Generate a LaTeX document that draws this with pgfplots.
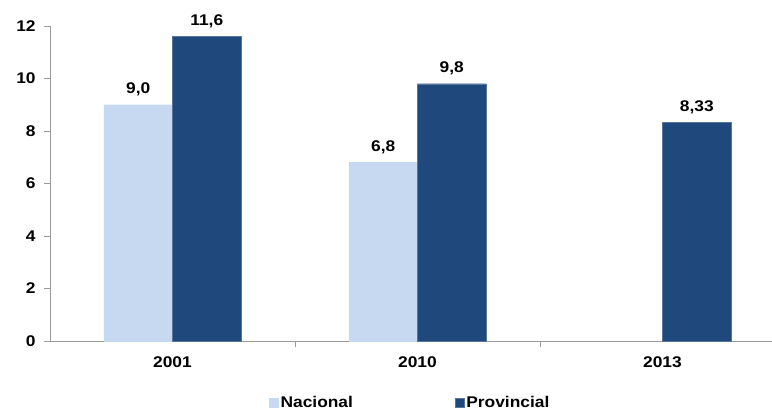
\documentclass[border=0pt]{standalone}
\usepackage{pgfplots}
\pgfplotsset{compat=1.18}
\usepackage{fontspec}
\setmainfont{Liberation Sans}[FakeStretch=1.12]
\usetikzlibrary{calc}
\definecolor{nac}{HTML}{C6D9F1}
\definecolor{prov}{HTML}{1F497D}
\definecolor{axgray}{HTML}{9A9A9A}
\newcommand{\lbl}{\fontsize{15.5}{18}\selectfont\bfseries}
\begin{document}
\lbl
\begin{tikzpicture}
\begin{axis}[name=ax, scale only axis, width=722pt, height=315pt,
  xmin=-0.5, xmax=2.447, ymin=0, ymax=12, clip=false,
  axis x line*=bottom, axis y line*=left,
  axis line style={axgray, line width=0.9pt},
  ytick={0,2,...,12},
  xtick={0,1,2}, xticklabels={2001,2010,2013},
  minor xtick={0.5,1.5},
  tick align=outside, major tick length=6pt, minor tick length=6pt,
  tick style={axgray, line width=0.9pt},
  major x tick style={draw=none},
  ticklabel style={font=\lbl},
  xticklabel style={yshift=-4pt},
  yticklabel style={xshift=-3pt},
  /pgf/number format/assume math mode=true,
  ybar=0pt, bar width=0.28,
  point meta=explicit symbolic,
  nodes near coords,
  nodes near coords style={font=\lbl, anchor=south, yshift=3pt},
  legend style={at={(0.499,-0.197)}, anchor=center, draw=none, fill=none,
    legend columns=2, font=\lbl,
    /tikz/every even column/.append style={column sep=100pt}},
  legend image code/.code={\fill[#1] (0pt,-4.5pt) rectangle (9pt,4.5pt);},
]
\addplot[fill=nac, draw=nac] coordinates {(0,9.0)[9,0] (1,6.8)[6,8]};
\addplot[fill=prov, draw=prov!75!white] coordinates {(0,11.6)[11,6] (1,9.8)[9,8] (2,8.33)[8,33]};
\legend{Nacional, Provincial}
\end{axis}
\pgfresetboundingbox
\path[use as bounding box] ($(ax.south west)+(-50pt,-71pt)$) rectangle ($(ax.north east)+(0pt,26pt)$);
\end{tikzpicture}
\end{document}
